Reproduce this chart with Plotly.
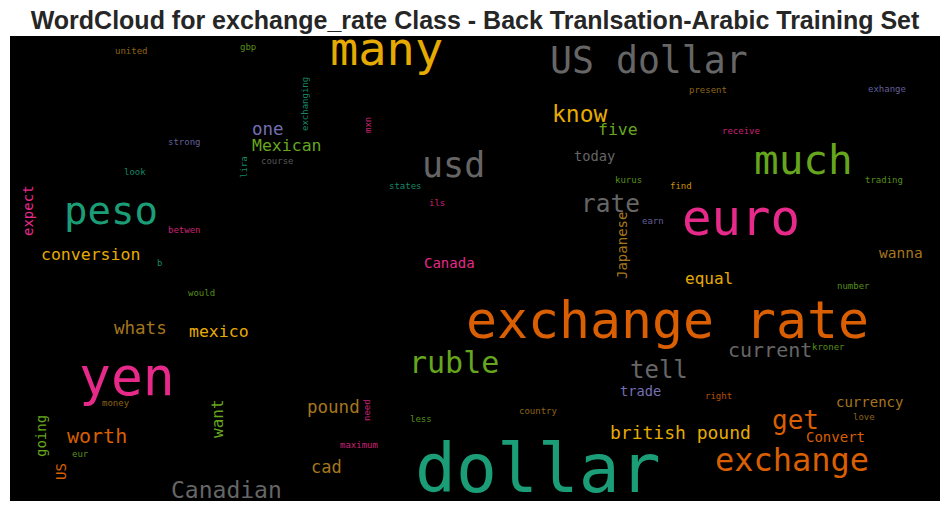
import plotly.graph_objects as go

TITLE = "WordCloud for exchange_rate Class - Back Tranlsation-Arabic Training Set"
GREEN, ORANGE, PURPLE, PINK, LIME, YELLOW, BROWN, GREY = (
    "#1b9e77", "#d95f02", "#7570b3", "#e7298a", "#66a61e", "#e6ab02", "#a6761d", "#666666")

words = ["many","US dollar","usd","much","euro","peso","know","five","one","Mexican","today","rate",
         "conversion","expect","Japanese","Canada","equal","wanna","exchange rate","whats","mexico","yen",
         "ruble","tell","current","kroner","trade","right","currency","love","get","Convert","british pound",
         "exchange","dollar","country","less","number","pound","need","maximum","cad","Canadian","want",
         "money","going","eur","US","worth","would","b","betwen","look","strong","course","lira","exchanging",
         "mxn","united","gbp","states","ils","present","exhange","receive","kurus","find","trading","earn"]
word_x = [386,649,453,803,741,111,580,618,268,287,594,610,
          90,28,622,449,709,901,667,140,219,127,
          454,659,770,828,640,718,869,864,795,835,680,
          792,538,538,421,853,333,367,359,326,226,217,
          116,41,80,61,97,201,159,184,135,184,277,244,305,
          368,131,248,405,437,708,887,741,628,681,884,653]
word_y = [48,60,165,160,218,210,114,129,129,145,156,203,
          254,211,246,263,278,253,320,328,331,376,
          362,370,350,347,391,396,402,417,420,437,432,
          460,468,411,419,286,407,410,445,467,490,419,
          403,436,454,472,436,293,263,230,172,142,161,167,104,
          125,51,47,186,203,90,89,131,180,186,180,221]
word_size = [47,36.5,35,41,49,39,23,16.5,17.5,16.5,13.7,24.5,
             16.5,14,14,14,16,14.5,51.5,17.5,16.5,53,
             30,24,20,9,13.7,9,14,9,26,14,18,
             32,68,9,9,9,17.5,9,9,17,23,16,
             9,14,9,14,20,9,9,9,9,9,9,9,9,
             9,9,9,9,9,9,9,9,9,9,9,9]
word_color = [YELLOW,GREY,GREY,LIME,PINK,GREEN,YELLOW,LIME,PURPLE,LIME,GREY,GREY,
              YELLOW,PINK,BROWN,PINK,YELLOW,BROWN,ORANGE,BROWN,YELLOW,PINK,
              LIME,GREY,GREY,LIME,PURPLE,ORANGE,BROWN,BROWN,ORANGE,ORANGE,YELLOW,
              ORANGE,GREEN,BROWN,LIME,LIME,BROWN,PINK,PINK,BROWN,GREY,LIME,
              BROWN,LIME,LIME,ORANGE,ORANGE,LIME,GREEN,PINK,GREEN,PURPLE,GREY,GREEN,GREEN,
              PINK,BROWN,LIME,GREEN,PINK,BROWN,PURPLE,PINK,LIME,YELLOW,LIME,PURPLE]
vertical = {"expect","Japanese","need","want","going","US","lira","exchanging","mxn"}

fig = go.Figure()
fig.add_trace(go.Scatter(x=[], y=[], showlegend=False))
for w, x, y, s, c in zip(words, word_x, word_y, word_size, word_color):
    fig.add_annotation(x=x, y=y, xref="x", yref="y", text=w, showarrow=False,
                       xanchor="center", yanchor="middle",
                       textangle=-90 if w in vertical else 0,
                       font=dict(family="DejaVu Sans Mono", size=s, color=c),
                       opacity=0.85 if s < 10 else 1, borderpad=0)
fig.update_layout(
    width=950, height=511, autosize=False,
    margin=dict(l=10, r=10, t=36, b=10),
    paper_bgcolor="white", plot_bgcolor="black", showlegend=False,
    title=dict(text=f"<b>{TITLE}</b>", x=0.5, xanchor="center", y=0.961, yanchor="middle",
               font=dict(family="Liberation Sans", size=25, color="#262626")),
    xaxis=dict(range=[10, 940], visible=False),
    yaxis=dict(range=[501, 36], visible=False),
)
fig.write_html("out.html", config={"displayModeBar": False},
               post_script="document.body.style.margin='0';document.body.style.overflow='hidden';")
